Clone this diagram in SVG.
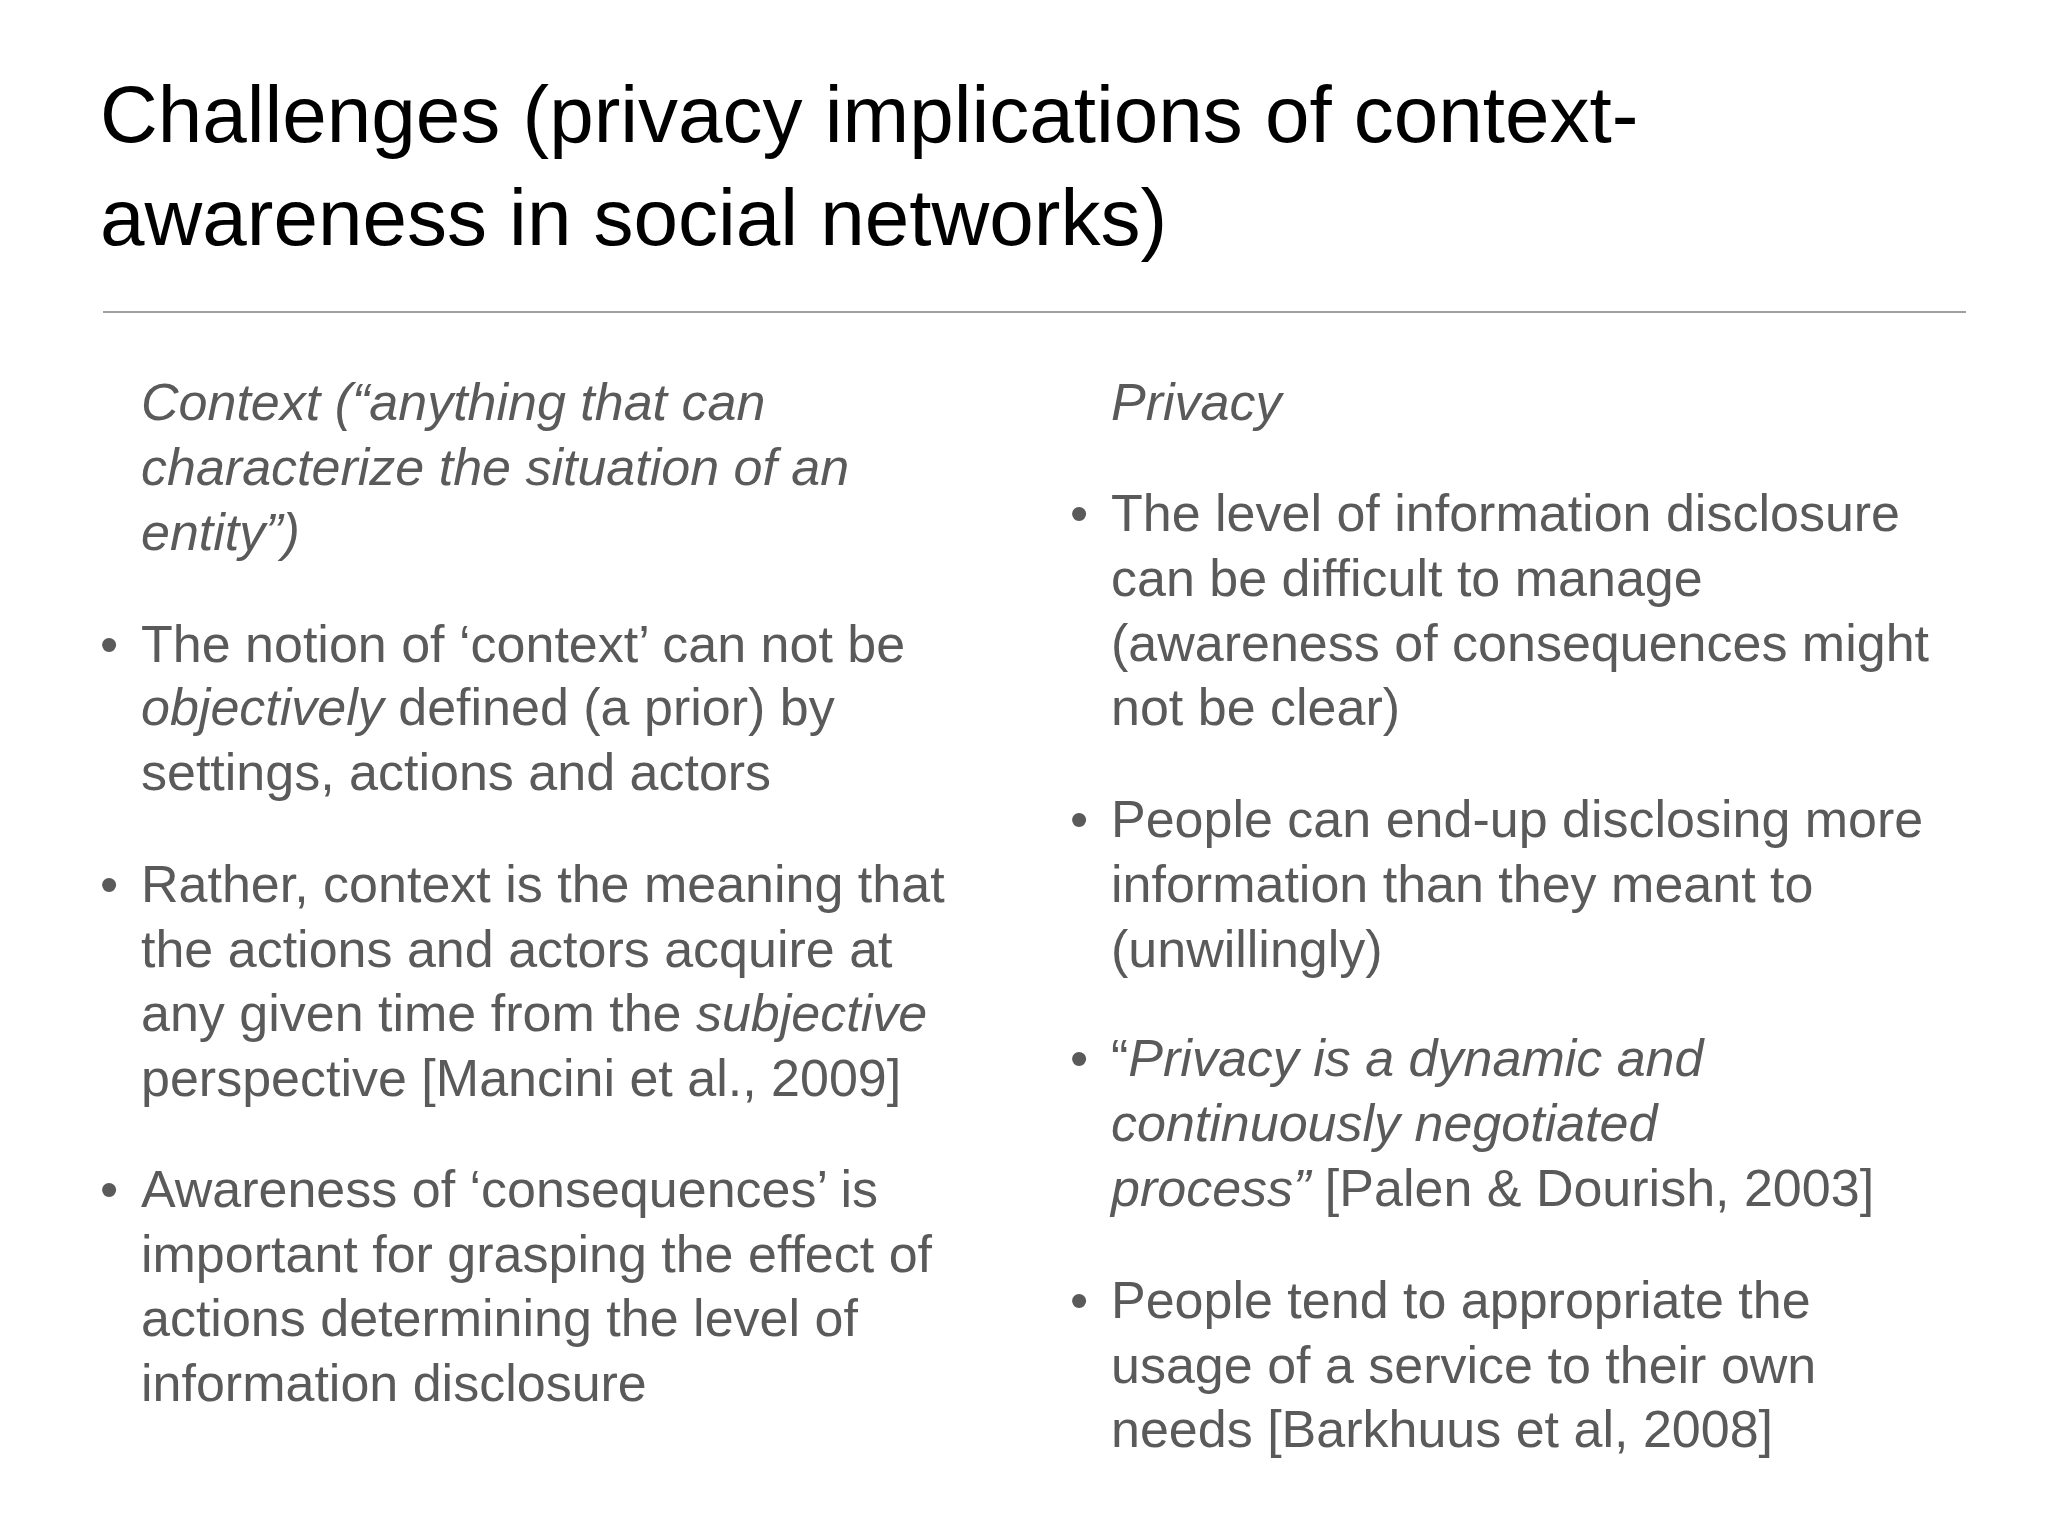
<svg xmlns="http://www.w3.org/2000/svg" width="2048" height="1536" viewBox="0 0 2048 1536">
<style>
.t{font-family:"Liberation Sans",Arial,sans-serif;font-size:80px;fill:#000}
.b{font-family:"Liberation Sans",Arial,sans-serif;font-size:52px;fill:#5a5a5a}
.i{font-style:italic}
</style>
<rect width="2048" height="1536" fill="#fff"/>
<g id="title">
<text class="t" x="100" y="142">Challenges (privacy implications of context-</text>
<text class="t" x="100" y="245">awareness in social networks)</text>
</g>
<line x1="103" y1="312" x2="1966" y2="312" stroke="#a0a0a0" stroke-width="2"/>
<g id="left" transform="translate(0,-6)">
<text class="b i" x="141" y="426">Context (“anything that can</text>
<text class="b i" x="141" y="491">characterize the situation of an</text>
<text class="b i" x="141" y="556">entity”)</text>
<text class="b" x="100" y="668">•</text>
<text class="b" x="141" y="668">The notion of ‘context’ can not be</text>
<text class="b" x="141" y="731"><tspan class="i">objectively</tspan> defined (a prior) by</text>
<text class="b" x="141" y="796">settings, actions and actors</text>
<text class="b" x="100" y="908">•</text>
<text class="b" x="141" y="908">Rather, context is the meaning that</text>
<text class="b" x="141" y="973">the actions and actors acquire at</text>
<text class="b" x="141" y="1037">any given time from the <tspan class="i">subjective</tspan></text>
<text class="b" x="141" y="1102">perspective [Mancini et al., 2009]</text>
<text class="b" x="100" y="1213">•</text>
<text class="b" x="141" y="1213">Awareness of ‘consequences’ is</text>
<text class="b" x="141" y="1278">important for grasping the effect of</text>
<text class="b" x="141" y="1342">actions determining the level of</text>
<text class="b" x="141" y="1407">information disclosure</text>
</g>
<g id="right" transform="translate(-12,-6)">
<text class="b i" x="1123" y="426">Privacy</text>
<text class="b" x="1082" y="537">•</text>
<text class="b" x="1123" y="537">The level of information disclosure</text>
<text class="b" x="1123" y="602">can be difficult to manage</text>
<text class="b" x="1123" y="667">(awareness of consequences might</text>
<text class="b" x="1123" y="731">not be clear)</text>
<text class="b" x="1082" y="843">•</text>
<text class="b" x="1123" y="843">People can end-up disclosing more</text>
<text class="b" x="1123" y="908">information than they meant to</text>
<text class="b" x="1123" y="973">(unwillingly)</text>
<text class="b" x="1082" y="1082">•</text>
<text class="b" x="1123" y="1082">“<tspan class="i">Privacy is a dynamic and</tspan></text>
<text class="b i" x="1123" y="1147">continuously negotiated</text>
<text class="b" x="1123" y="1212"><tspan class="i">process”</tspan> [Palen &amp; Dourish, 2003]</text>
<text class="b" x="1082" y="1324">•</text>
<text class="b" x="1123" y="1324">People tend to appropriate the</text>
<text class="b" x="1123" y="1389">usage of a service to their own</text>
<text class="b" x="1123" y="1453">needs [Barkhuus et al, 2008]</text>
</g>
</svg>
